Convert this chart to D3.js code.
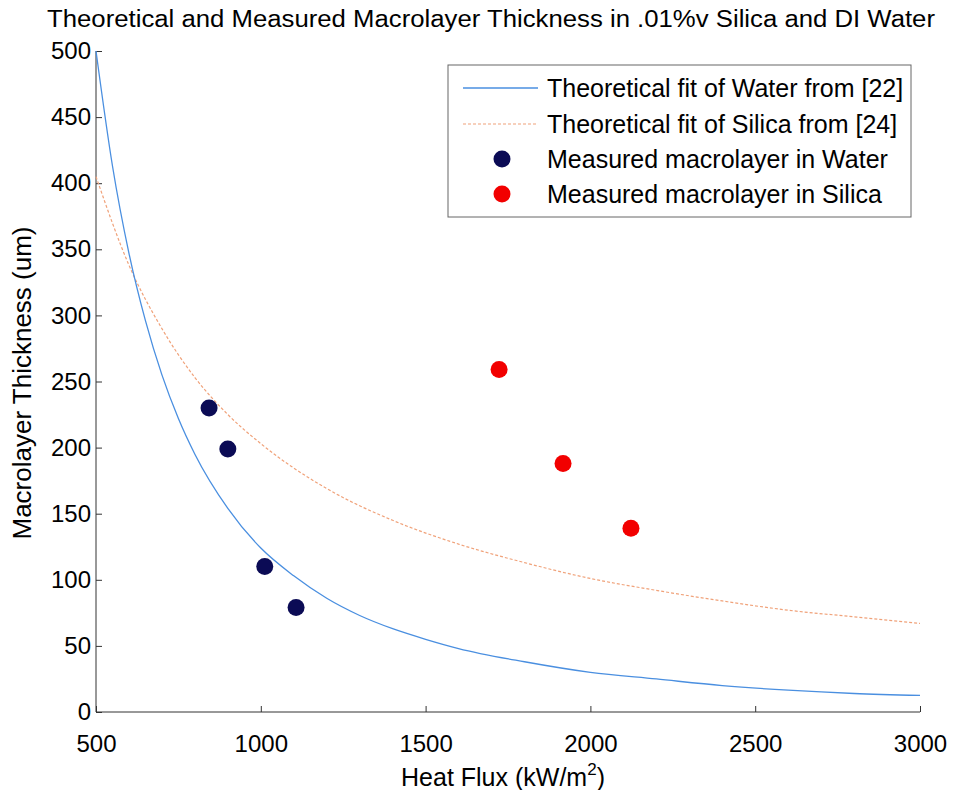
<!DOCTYPE html>
<html>
<head>
<meta charset="utf-8">
<script src="https://cdn.jsdelivr.net/npm/d3@7"></script>
<style>
  body { margin: 0; background: #fff; }
  svg { font-family: "Liberation Sans", Arial, sans-serif; }
  .axis path, .axis line { stroke: #333; }
  .axis text { font-size: 24px; fill: #000; }
</style>
</head>
<body>
<svg id="chart"></svg>
<script>
// heat flux samples (kW/m^2) and the two theoretical fits
const fluxWater = [500, 550, 600, 650, 700, 750, 800, 900, 1000, 1100, 1200, 1300, 1400, 1500, 1600, 1800, 2000, 2200, 2400, 2600, 2800, 3000];
const fitWater = [500, 413, 347, 296, 255, 222, 195, 154, 124, 103, 86, 73, 63, 55, 48, 38, 30, 25, 20, 16.5, 14, 12.5];
const fluxSilica = [500, 600, 700, 800, 900, 1000, 1200, 1400, 1600, 1800, 2000, 2200, 2400, 2600, 2800, 3000];
const fitSilica = [405, 338, 290, 253, 225, 203, 169, 145, 127, 113, 101, 92, 84, 77, 72, 67];

// measured macrolayer points
const measWaterFlux = [843, 900, 1012, 1107];
const measWaterThick = [230, 199, 110, 79];
const measSilicaFlux = [1723, 1917, 2123];
const measSilicaThick = [259, 188, 139];

const xTicks = [500, 1000, 1500, 2000, 2500, 3000];
const yTicks = [0, 50, 100, 150, 200, 250, 300, 350, 400, 450, 500];

const legendLabels = [
  'Theoretical fit of Water from [22]',
  'Theoretical fit of Silica from [24]',
  'Measured macrolayer in Water',
  'Measured macrolayer in Silica'
];

const W = 953, H = 790;
const margin = {top: 51, right: 33, bottom: 78, left: 96};
const width = W - margin.left - margin.right;
const height = H - margin.top - margin.bottom;

const svg = d3.select('#chart').attr('width', W).attr('height', H);
const chart = svg.append('g').attr('transform', `translate(${margin.left}, ${margin.top})`);

const x = d3.scaleLinear().domain([500, 3000]).range([0, width]);
const y = d3.scaleLinear().domain([0, 500]).range([height, 0]);

/****** axes (ticks point inward, matlab style) ******/
const xAxis = chart.append('g')
  .attr('class', 'axis')
  .attr('transform', `translate(0, ${height})`)
  .call(d3.axisBottom(x).tickValues(xTicks).tickSize(-6).tickPadding(23).tickFormat(d3.format('d')));

const yAxis = chart.append('g')
  .attr('class', 'axis')
  .call(d3.axisLeft(y).tickValues(yTicks).tickSize(-6).tickPadding(5).tickFormat(d3.format('d')));

xAxis.select('.domain').attr('d', `M0,0H${width}`);
yAxis.select('.domain').attr('d', `M0,${height}V0`);

/****** fit curves ******/
const line = d3.line()
  .x((d) => x(d[0]))
  .y((d) => y(d[1]))
  .curve(d3.curveMonotoneX);

chart.append('path')
  .datum(fluxSilica.map((f, i) => [f, fitSilica[i]]))
  .attr('d', line)
  .attr('fill', 'none')
  .attr('stroke', '#f0a27a')
  .attr('stroke-width', 1.2)
  .attr('stroke-dasharray', '3,2');

chart.append('path')
  .datum(fluxWater.map((f, i) => [f, fitWater[i]]))
  .attr('d', line)
  .attr('fill', 'none')
  .attr('stroke', '#4a8fe0')
  .attr('stroke-width', 1.3);

/****** measured points ******/
chart.selectAll('.water')
  .data(measWaterFlux.map((f, i) => [f, measWaterThick[i]]))
  .enter().append('circle')
  .attr('class', 'water')
  .attr('cx', (d) => x(d[0]))
  .attr('cy', (d) => y(d[1]))
  .attr('r', 8.5)
  .style('fill', '#0b0b55');

chart.selectAll('.silica')
  .data(measSilicaFlux.map((f, i) => [f, measSilicaThick[i]]))
  .enter().append('circle')
  .attr('class', 'silica')
  .attr('cx', (d) => x(d[0]))
  .attr('cy', (d) => y(d[1]))
  .attr('r', 8.5)
  .style('fill', '#f20000');

/****** legend ******/
const legend = svg.append('g').attr('transform', 'translate(448, 65)');
legend.append('rect')
  .attr('width', 463).attr('height', 152)
  .attr('fill', '#fff').attr('stroke', '#666').attr('stroke-width', 1);

const rowY = [23, 59, 94, 129];
legend.append('line').attr('x1', 15).attr('x2', 90).attr('y1', rowY[0]).attr('y2', rowY[0])
  .attr('stroke', '#4a8fe0').attr('stroke-width', 1.3);
legend.append('line').attr('x1', 15).attr('x2', 90).attr('y1', rowY[1]).attr('y2', rowY[1])
  .attr('stroke', '#f0a27a').attr('stroke-width', 1.2).attr('stroke-dasharray', '3,2');
legend.append('circle').attr('cx', 54).attr('cy', rowY[2]).attr('r', 8.5).style('fill', '#0b0b55');
legend.append('circle').attr('cx', 54).attr('cy', rowY[3]).attr('r', 8.5).style('fill', '#f20000');

legend.selectAll('.leg')
  .data(legendLabels)
  .enter().append('text')
  .attr('class', 'leg')
  .attr('x', 99)
  .attr('y', (d, i) => rowY[i])
  .attr('dy', '0.35em')
  .style('font-size', '25px')
  .text((d) => d);

/****** title and labels ******/
svg.append('text')
  .attr('x', 491)
  .attr('y', 27)
  .attr('text-anchor', 'middle')
  .attr('textLength', 888)
  .attr('lengthAdjust', 'spacingAndGlyphs')
  .style('font-size', '23px')
  .text('Theoretical and Measured Macrolayer Thickness in .01%v Silica and DI Water');

svg.append('text')
  .attr('transform', 'translate(31, 383) rotate(-90)')
  .attr('text-anchor', 'middle')
  .style('font-size', '26px')
  .text('Macrolayer Thickness (um)');

const xl = svg.append('text')
  .attr('x', 503)
  .attr('y', 786)
  .attr('text-anchor', 'middle')
  .style('font-size', '25px');
xl.append('tspan').text('Heat Flux (kW/m');
xl.append('tspan').attr('dy', -11).style('font-size', '17px').text('2');
xl.append('tspan').attr('dy', 11).text(')');
</script>
</body>
</html>
